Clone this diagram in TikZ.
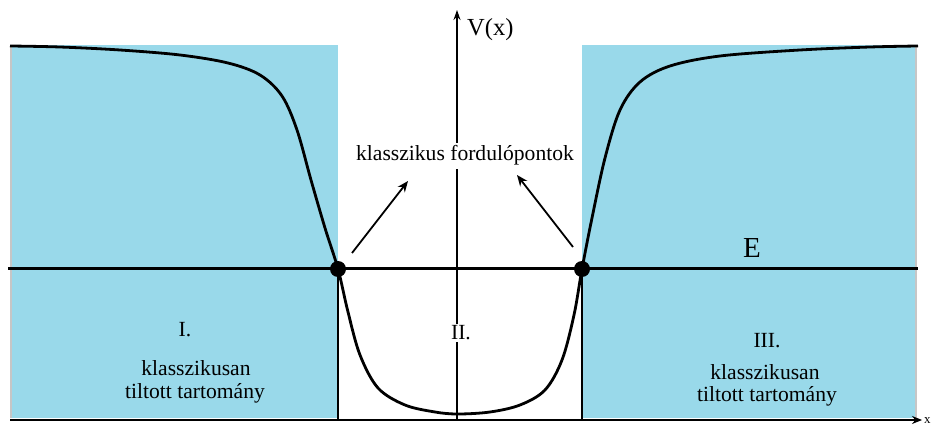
\documentclass[tikz,border=0pt]{standalone}
\usepackage{fontspec}
\setmainfont{Liberation Serif}
\usetikzlibrary{arrows.meta}
\definecolor{forbid}{HTML}{99D9EA}
\begin{document}
\begin{tikzpicture}[x=1pt,y=-1pt,
  lbl/.style={font=\fontsize{21.6}{24}\selectfont, inner sep=0pt, anchor=base},
  axis/.style={line width=1.3pt},
  tp/.style={circle, fill=black, minimum size=16pt, inner sep=0pt},
  pointer/.style={line width=1.8pt, -{Stealth[length=11pt,width=9pt]}}]
\useasboundingbox (0,0) rectangle (932,430);
\fill[white] (0,0) rectangle (932,430);
% forbidden regions
\fill[forbid] (10,45) rectangle (338,418);
\fill[forbid] (582,45) rectangle (917,418);
\draw[gray!45, line width=1.6pt] (11,45) -- (11,418);
\draw[gray!45, line width=1.6pt] (916,45) -- (916,418);
% axes
\draw[axis, -{Stealth[length=10pt,width=8pt]}] (10,420) -- (922,420);
\node[anchor=west, inner sep=0pt, font=\fontsize{13}{14}\selectfont] (xl) at (924,421) {x};
\draw[axis, -{Stealth[length=10pt,width=7pt]}] (457,420) -- (457,10);
\node[anchor=base west, inner sep=0pt, font=\fontsize{24.5}{26}\selectfont] (vl) at (467,36) {V(x)};
% energy line
\draw[line width=3pt] (8,269) -- (918,269);
% potential
\draw[line width=2.8pt, line join=round] plot[smooth, tension=0.55] coordinates {
 (10,46) (60,47) (120,50) (180,55) (228,63) (260,75) (282,96) (297,130) (311,180) (325,228) (338,269)
 (348,312) (360,355) (378,388) (405,405) (435,412) (458,414) (490,412) (520,405) (545,390) (562,360) (574,315) (582,269)
 (592,218) (605,158) (620,110) (640,82) (670,66) (720,56) (800,50) (870,47) (918,46)};
% turning points
\draw[line width=1.3pt] (338,269) -- (338,420);
\draw[line width=1.3pt] (582,269) -- (582,420);
\node[tp] (tpL) at (338,269) {};
\node[tp] (tpR) at (582,269) {};
% labels
\node[lbl, fill=white, inner sep=3pt] (turn) at (465,161) {klasszikus fordulópontok};
\coordinate (aL) at (352,253);
\coordinate (aR) at (573,247);
\draw[pointer] (aL) -- (408,181);
\draw[pointer] (aR) -- (517,175);
\node[anchor=base, inner sep=0pt, font=\fontsize{29}{32}\selectfont] (E) at (752,258) {E};
\node[lbl] (r1) at (185,337) {I.};
\node[lbl] (r1a) at (196,375) {klasszikusan};
\node[lbl] (r1b) at (195,398) {tiltott tartomány};
\node[lbl, fill=white, inner sep=2pt] (r2) at (461,340) {II.};
\node[lbl] (r3) at (767,348) {III.};
\node[lbl] (r3a) at (765,380) {klasszikusan};
\node[lbl] (r3b) at (767,401) {tiltott tartomány};
\end{tikzpicture}
\end{document}
